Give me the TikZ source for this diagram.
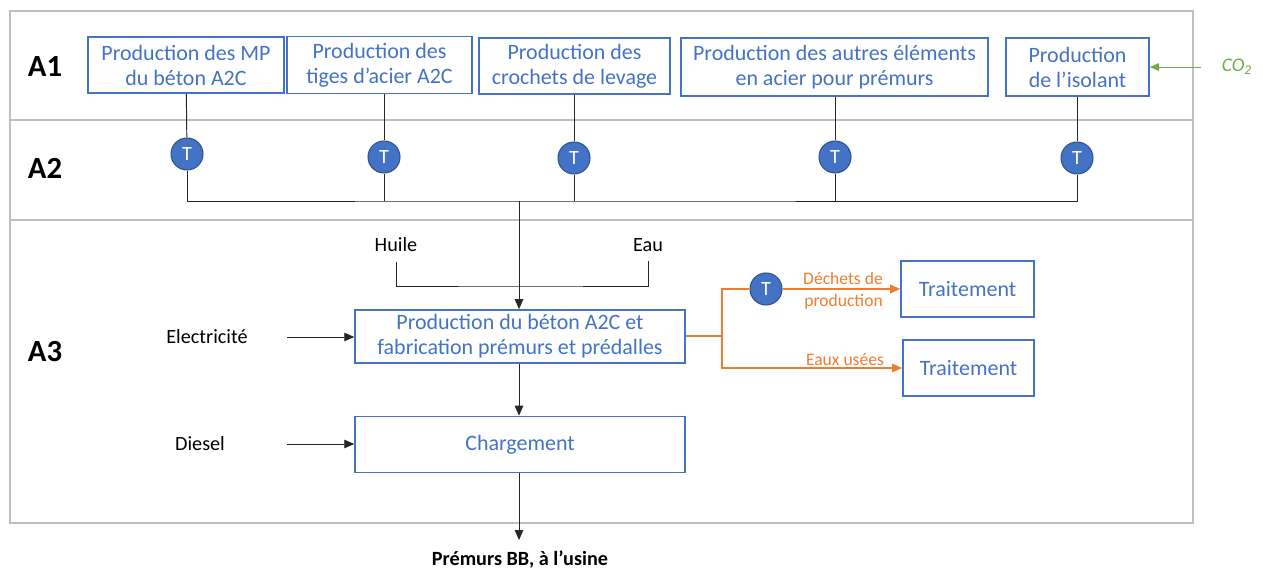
\documentclass[tikz,border=0pt]{standalone}
\usepackage{fontspec}
\setmainfont{Carlito}
\usepackage{xcolor}
\usetikzlibrary{arrows.meta, positioning, calc}
\definecolor{procblue}{HTML}{4472C4}
\definecolor{tdark}{HTML}{2F528F}
\definecolor{wasteorange}{HTML}{ED7D31}
\definecolor{co2green}{HTML}{70AD47}
\definecolor{bandgray}{HTML}{BFBFBF}
\tikzset{
  % Process boxes
  procbox/.style={rectangle, draw=procblue, line width=0.9pt, text=procblue, align=center, inner sep=1pt, font=\fontsize{12.5}{14.2}\selectfont},
  tnode/.style={circle, draw=tdark, line width=0.6pt, fill=procblue, text=white, minimum size=0.64cm, inner sep=0pt, font=\fontsize{11.5}{12}\selectfont},
  flowlabel/.style={font=\fontsize{11.5}{13}\selectfont, inner sep=1pt},
  bandlabel/.style={font=\fontsize{17.5}{19}\selectfont\bfseries},
  % Connectors
  link/.style={draw=black!85, line width=0.55pt},
  arrow/.style={link, -{Triangle[length=0.2cm, width=0.17cm]}},
  wastelink/.style={draw=wasteorange, line width=1pt},
  wastearrow/.style={draw=wasteorange, line width=0.6pt, -{Triangle[length=0.2cm, width=0.17cm]}},
  wastelabel/.style={text=wasteorange, align=right, font=\fontsize{10}{10.5}\selectfont, inner sep=1pt},
  band/.style={draw=bandgray, line width=0.7pt},
  bandsep/.style={draw=bandgray, line width=1.6pt},
}
\begin{document}
\begin{tikzpicture}[x=0.02cm, y=-0.02cm]
    \useasboundingbox (0,0) rectangle (1263,570);

    % Bands A1, A2, A3
    \draw[band] (10,11) rectangle (1193,523);
    \draw[bandsep] (10,120) -- (1193,120);
    \draw[bandsep] (10,220) -- (1193,220);
    \node[bandlabel] (a1) at (45,67) {A1};
    \node[bandlabel] (a2) at (45,168) {A2};
    \node[bandlabel] (a3) at (45,352) {A3};

    % A1: upstream production
    \node[procbox, minimum width=3.92cm, minimum height=1.12cm] (mp) at (186,65) {Production des MP\\du béton A2C};
    \node[procbox, minimum width=3.7cm, minimum height=1.14cm] (tiges) at (379.5,65) {Production des\\tiges d’acier A2C};
    \node[procbox, minimum width=3.82cm, minimum height=1.12cm] (crochets) at (574.5,66) {Production des\\crochets de levage};
    \node[procbox, minimum width=6.14cm, minimum height=1.16cm] (autres) at (834.5,67) {Production des autres éléments\\en acier pour prémurs};
    \node[procbox, minimum width=2.86cm, minimum height=1.16cm] (isolant) at (1077.5,67) {Production\\de l’isolant};
    \node[text=co2green, font=\fontsize{11}{12}\selectfont\itshape] (co2) at (1237,67) {CO\textsubscript{2}};
    \draw[draw=co2green, line width=0.5pt, -{Triangle[length=0.18cm, width=0.15cm]}] ([xshift=-0.3cm]co2.west) -- (isolant.east |- co2);

    % A2: transport
    \node[tnode] (t1) at (187,154) {T};
    \node[tnode] (t2) at (384,157) {T};
    \node[tnode] (t3) at (574,158) {T};
    \node[tnode] (t4) at (835,157) {T};
    \node[tnode] (t5) at (1077,158) {T};
    \coordinate (bus) at (519,201);
    \draw[link] (mp) -- (t1);
    \draw[link] (tiges.south -| t2) -- (t2);
    \draw[link] (crochets.south -| t3) -- (t3);
    \draw[link] (autres.south -| t4) -- (t4);
    \draw[link] (isolant.south -| t5) -- (t5);
    \draw[link] (t1) |- (bus) -| (t5);
    \draw[link] (t2) -- (t2 |- bus);
    \draw[link] (t3) -- (t3 |- bus);
    \draw[link] (t4) -- (t4 |- bus);

    % A3: production at the plant
    \node[procbox, minimum width=6.6cm, minimum height=1.06cm] (beton) at (520,336.5) {Production du béton A2C et\\fabrication prémurs et prédalles};
    \node[procbox, minimum width=6.6cm, minimum height=1.12cm] (charg) at (520,444.5) {Chargement};
    \node[flowlabel] (huile) at (396,245) {Huile};
    \node[flowlabel] (eau) at (648,245) {Eau};
    \node[flowlabel] (elec) at (207,337) {Electricité};
    \node[flowlabel] (diesel) at (200,444) {Diesel};
    \node[font=\fontsize{11.5}{12}\selectfont\bfseries] (premurs) at (520,560) {Prémurs BB, à l’usine};
    \draw[arrow] (bus) -- (bus |- beton.north);
    \draw[link] ([yshift=-0.15cm]huile.south) |- (bus |- 0,286) -| ([yshift=-0.15cm]eau.south);
    \draw[arrow] ([xshift=0.75cm]elec.east) -- (beton.west |- elec);
    \draw[arrow] ([xshift=1.2cm]diesel.east) -- (charg.west |- diesel);
    \draw[arrow] (beton.south -| bus) -- (charg.north -| bus);
    \draw[arrow] (charg.south -| bus) -- ([yshift=0.1cm]premurs.north -| bus);

    % Waste streams
    \node[tnode] (t6) at (766,289) {T};
    \node[procbox, minimum width=2.66cm, minimum height=1.12cm] (trait1) at (967.5,289) {Traitement};
    \node[procbox, minimum width=2.62cm, minimum height=1.12cm] (trait2) at (968.5,368) {Traitement};
    \coordinate (fork) at (722,336);
    \draw[wastelink] (beton.east |- fork) -- (fork) |- (t6);
    \draw[wastelink, -{Triangle[length=0.2cm, width=0.17cm]}] (t6) -- (trait1.west);
    \draw[wastearrow] (fork) |- (trait2.west);
    \node[wastelabel] (dechets) at (843,291) {Déchets de\\[2pt]production};
    \node[wastelabel] (eaux) at (845,360) {Eaux usées};
\end{tikzpicture}
\end{document}
